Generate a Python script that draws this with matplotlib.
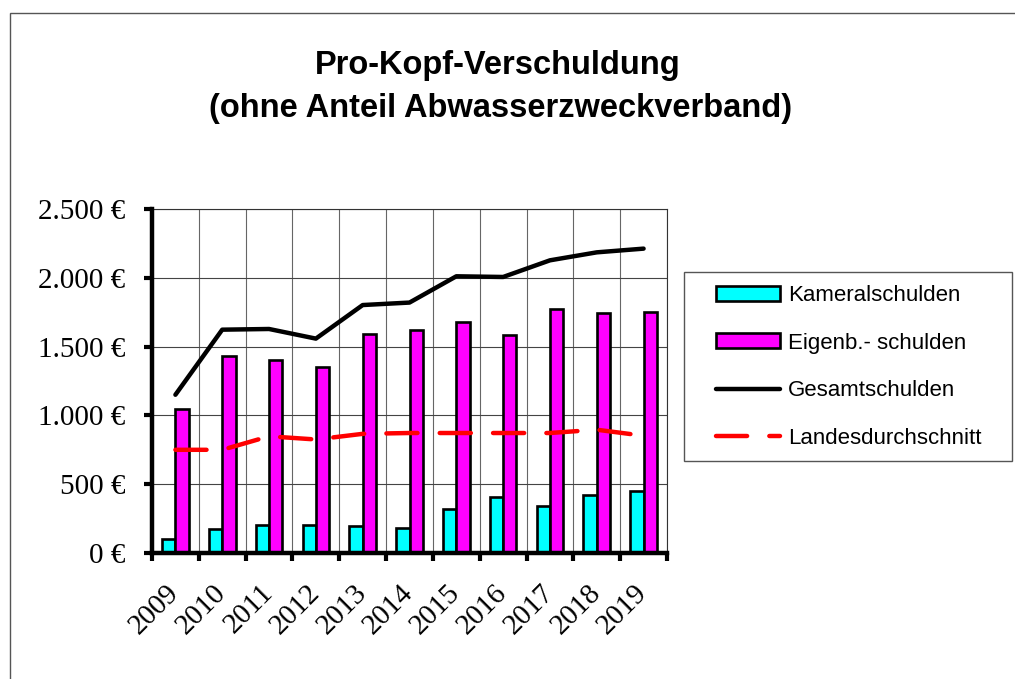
import numpy as np
import matplotlib
matplotlib.use("Agg")
import matplotlib.pyplot as plt
from matplotlib.patches import Rectangle, Patch
from matplotlib.lines import Line2D
from matplotlib.transforms import ScaledTranslation

# Data
years = ["2009", "2010", "2011", "2012", "2013", "2014", "2015", "2016", "2017", "2018", "2019"]
kameral = [100, 175, 205, 200, 195, 185, 320, 407, 340, 425, 447]
eigenb = [1048, 1435, 1405, 1352, 1594, 1623, 1681, 1587, 1773, 1744, 1754]
gesamt = [1150, 1623, 1628, 1558, 1802, 1820, 2011, 2006, 2127, 2185, 2212]
landes = [750, 750, 848, 825, 866, 872, 872, 872, 872, 896, 852]
y_ticks = [0, 500, 1000, 1500, 2000, 2500]
y_labels = ["0 €", "500 €", "1.000 €", "1.500 €", "2.000 €", "2.500 €"]

W, H = 1015, 679
fig = plt.figure(figsize=(W / 100, H / 100), dpi=100)
fig.patch.set_facecolor("white")

# Outer frame (only left and top edges are visible in the picture)
fig.patches.append(Rectangle((10 / W, -0.05), 1.1, 1 - 13 / H + 0.05, transform=fig.transFigure,
                             fill=False, edgecolor="#555555", linewidth=1))

# Title
title_font = ["Liberation Sans", "DejaVu Sans"]
fig.text(498 / W, 1 - 74 / H, "Pro-Kopf-Verschuldung", ha="center", va="baseline",
         fontsize=23.5, fontweight="bold", family=title_font)
fig.text(501 / W, 1 - 117 / H, "(ohne Anteil Abwasserzweckverband)", ha="center", va="baseline",
         fontsize=23.5, fontweight="bold", family=title_font)

ax = fig.add_axes([152 / W, 1 - 553 / H, (667 - 152) / W, (553 - 209) / H])
x = np.arange(len(years))
bw = 0.285

ax.bar(x - bw, kameral, width=bw, align="edge", color="#00FFFF", edgecolor="black", linewidth=1.9, zorder=3)
ax.bar(x, eigenb, width=bw, align="edge", color="#FF00FF", edgecolor="black", linewidth=1.9, zorder=3)
ax.plot(x, gesamt, color="black", linewidth=3.2, solid_capstyle="round", zorder=4)
ax.plot(x, landes, color="#FF0000", linewidth=3.2, dashes=(7.0, 5.0), dash_capstyle="round", zorder=4)

ax.set_xlim(-0.5, len(years) - 0.5)
ax.set_ylim(0, 2500)

# Ticks and grid
ax.set_yticks(y_ticks)
ax.set_yticklabels(y_labels, family=["Liberation Serif", "DejaVu Serif"], fontsize=21)
ax.set_xticks(x)
ax.set_xticklabels(years, rotation=45, ha="right", va="top", rotation_mode="default",
                   family=["Liberation Serif", "DejaVu Serif"], fontsize=21)
ax.set_xticks(np.arange(len(years) + 1) - 0.5, minor=True)
ax.tick_params(axis="x", which="major", length=0, pad=19)
ax.tick_params(axis="x", which="minor", length=6, width=3, direction="out")
ax.tick_params(axis="y", which="major", length=6, width=3, direction="out", pad=13)
ax.grid(True, axis="y", which="major", color="#444444", linewidth=0.8, zorder=0)
ax.grid(True, axis="x", which="minor", color="#666666", linewidth=0.8, zorder=0)
ax.set_axisbelow(True)

# nudge year labels to the right (after tick_params, which resets transforms)
shift = ScaledTranslation(9 / 100, 0, fig.dpi_scale_trans)
for lbl in ax.xaxis.get_majorticklabels():
    lbl.set_transform(lbl.get_transform() + shift)

for side in ("left", "bottom"):
    ax.spines[side].set_linewidth(3.2)
    ax.spines[side].set_color("black")
    ax.spines[side].set_zorder(5)
for side in ("top", "right"):
    ax.spines[side].set_linewidth(0.8)
    ax.spines[side].set_color("#333333")

# Legend with its own frame
fig.patches.append(Rectangle((684 / W, 1 - 461 / H), (1012 - 684) / W, (461 - 272) / H,
                             transform=fig.transFigure, fill=False, edgecolor="#555555", linewidth=1))
handles = [
    Patch(facecolor="#00FFFF", edgecolor="black", linewidth=1.9),
    Patch(facecolor="#FF00FF", edgecolor="black", linewidth=1.9),
    Line2D([], [], color="black", linewidth=3.2, solid_capstyle="round"),
    Line2D([], [], color="#FF0000", linewidth=3.2, dashes=(7.0, 5.0), dash_capstyle="round"),
]
labels = ["Kameralschulden", "Eigenb.- schulden", "Gesamtschulden", "Landesdurchschnitt"]
fig.legend(handles, labels, loc="upper left", bbox_to_anchor=(716 / W, 1 - 285 / H),
           frameon=False, prop={"family": ["Liberation Sans", "DejaVu Sans"], "size": 16},
           handlelength=2.9, handleheight=0.65, handletextpad=0.35, labelspacing=1.2,
           borderpad=0, borderaxespad=0)

fig.savefig("out.png", dpi=100)
